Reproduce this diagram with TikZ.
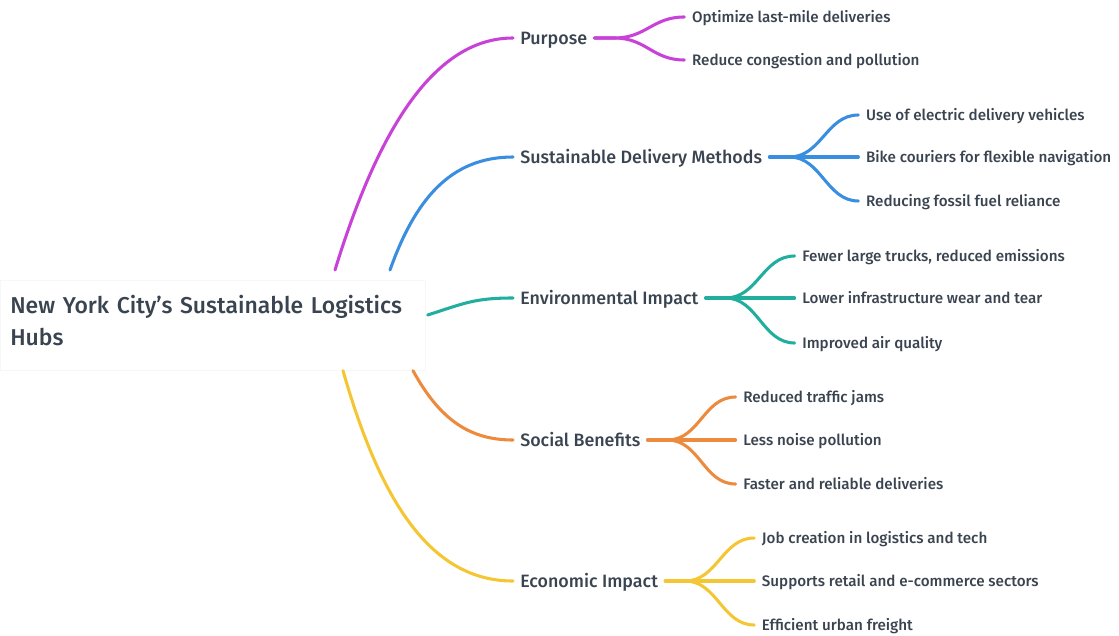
\documentclass[tikz,border=0pt]{standalone}
\usepackage{fontspec}
\setmainfont{Fira Sans}[UprightFont={* Medium}]
\usepackage{tikz}
\usetikzlibrary{calc,positioning}

\definecolor{inkgray}{HTML}{3A4450}
\definecolor{purposeC}{HTML}{C942D8}
\definecolor{methodsC}{HTML}{3A8EE0}
\definecolor{environC}{HTML}{22AE9E}
\definecolor{socialC}{HTML}{EC8A3E}
\definecolor{economC}{HTML}{F5C634}

\begin{document}
\begin{tikzpicture}[
    x=0.75pt, y=-0.75pt,
    hub/.style={anchor=north west, fill=white, draw=black!3, line width=0.5pt, text width=303.75pt, minimum height=67.5pt, inner xsep=7.5pt, inner ysep=0pt, align=left, font=\fontsize{17.2}{24.5}\selectfont, text=inkgray},
    topic/.style={anchor=west, inner xsep=5.25pt, inner ysep=2pt, text height=1.1em, text depth=0.16em, font=\fontsize{13.4}{15}\selectfont, text=inkgray},
    leaf/.style={anchor=west, inner xsep=5.6pt, inner ysep=2pt, text height=1.0em, text depth=0.15em, font=\fontsize{11.4}{13}\selectfont, text=inkgray},
    limb/.style={line width=2.3pt, line cap=round}
]
    \useasboundingbox (0,0) rectangle (1119,635);

    % --- Zentrum ---
    \node[hub] (hub) at (0,280) {New York City’s Sustainable Logistics\\Hubs\rule[-7.5pt]{0pt}{0pt}};

    % --- Themen ---
    \node[topic] (pur) at (513,38)  {Purpose};
    \node[topic] (met) at (513,157) {Sustainable Delivery Methods};
    \node[topic] (env) at (513,298) {Environmental Impact};
    \node[topic] (soc) at (513,440) {Social Benefits};
    \node[topic] (eco) at (513,581) {Economic Impact};

    % Zentrum -> Themen
    \draw[limb, purposeC] ($(hub.north west)+(335,-10)$) .. controls (375,140) and (430,38) .. (pur.west);
    \draw[limb, methodsC] ($(hub.north west)+(390,-10)$) .. controls (415,200) and (450,157) .. (met.west);
    \draw[limb, environC] ($(hub.north east)+(2,35)$) .. controls (465,303) and (475,298) .. (env.west);
    \draw[limb, socialC]  ($(hub.south west)+(413,0)$) .. controls (440,420) and (470,440) .. (soc.west);
    \draw[limb, economC]  ($(hub.south west)+(343,0)$) .. controls (380,500) and (430,581) .. (eco.west);

    % --- Purpose ---
    \node[leaf] (pur1) at ($(pur.east)+(90,-21)$) {Optimize last-mile deliveries};
    \node[leaf] (pur2) at ($(pur.east)+(90,22)$)  {Reduce congestion and pollution};
    \foreach \n in {pur1,pur2}
        \draw[limb, purposeC] (pur.east) -- ++(20,0) .. controls +(32,0) and +(-32,0) .. (\n.west);

    % --- Sustainable Delivery Methods ---
    \node[leaf] (met1) at ($(met.east)+(89,-42)$) {Use of electric delivery vehicles};
    \node[leaf] (met2) at ($(met.east)+(89,0)$)   {Bike couriers for flexible navigation};
    \node[leaf] (met3) at ($(met.east)+(89,44)$)  {Reducing fossil fuel reliance};
    \foreach \n in {met1,met2,met3}
        \draw[limb, methodsC] (met.east) -- ++(20,0) .. controls +(32,0) and +(-32,0) .. (\n.west);

    % --- Environmental Impact ---
    \node[leaf] (env1) at ($(env.east)+(89,-42)$) {Fewer large trucks, reduced emissions};
    \node[leaf] (env2) at ($(env.east)+(89,0)$)   {Lower infrastructure wear and tear};
    \node[leaf] (env3) at ($(env.east)+(89,45)$)  {Improved air quality};
    \foreach \n in {env1,env2,env3}
        \draw[limb, environC] (env.east) -- ++(20,0) .. controls +(32,0) and +(-32,0) .. (\n.west);

    % --- Social Benefits ---
    \node[leaf] (soc1) at ($(soc.east)+(88,-43)$) {Reduced traffic jams};
    \node[leaf] (soc2) at ($(soc.east)+(88,0)$)   {Less noise pollution};
    \node[leaf] (soc3) at ($(soc.east)+(88,44)$)  {Faster and reliable deliveries};
    \foreach \n in {soc1,soc2,soc3}
        \draw[limb, socialC] (soc.east) -- ++(20,0) .. controls +(32,0) and +(-32,0) .. (\n.west);

    % --- Economic Impact ---
    \node[leaf] (eco1) at ($(eco.east)+(89,-43)$) {Job creation in logistics and tech};
    \node[leaf] (eco2) at ($(eco.east)+(89,0)$)   {Supports retail and e-commerce sectors};
    \node[leaf] (eco3) at ($(eco.east)+(89,44)$)  {Efficient urban freight};
    \foreach \n in {eco1,eco2,eco3}
        \draw[limb, economC] (eco.east) -- ++(20,0) .. controls +(32,0) and +(-32,0) .. (\n.west);

\end{tikzpicture}
\end{document}
